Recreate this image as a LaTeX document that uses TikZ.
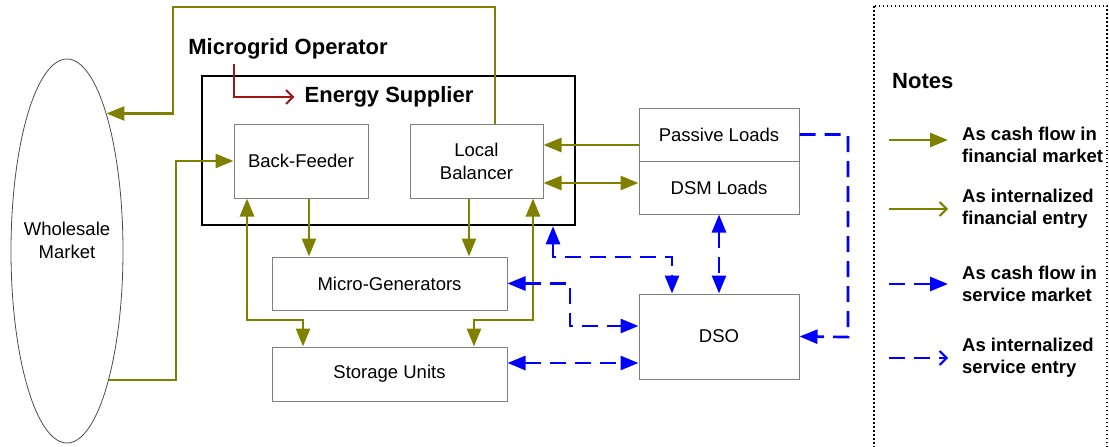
\documentclass[tikz,border=0pt]{standalone}
\usepackage{fontspec}
\setmainfont{Liberation Sans}
\usetikzlibrary{arrows.meta,shapes.geometric}
\definecolor{oliv}{RGB}{128,128,0}
\definecolor{bblue}{RGB}{0,0,255}
\definecolor{dred}{RGB}{160,20,20}
\definecolor{bgray}{RGB}{128,128,128}
\newcommand{\nrmf}{\fontsize{18.5}{23}\selectfont}
\newcommand{\notef}{\bfseries\fontsize{18.5}{22}\selectfont}
\newcommand{\bigf}{\bfseries\fontsize{22}{26}\selectfont}
\begin{document}
\begin{tikzpicture}[x=1pt,y=-1pt,
  tri/.tip={Triangle[length=18pt,width=14pt]},
  barb/.tip={Straight Barb[length=7pt,width=14pt,line width=2pt]},
  box/.style={draw=bgray,line width=1pt,inner sep=0pt,font=\nrmf,align=center},
  lbl/.style={inner sep=0pt,font=\bigf},
  cf/.style={draw=oliv,line width=2.7pt},
  sf/.style={draw=bblue,line width=2.7pt,dash pattern=on 16pt off 9pt},
  nt/.style={inner sep=0pt,font=\notef,align=left,anchor=west}]
\useasboundingbox (0,0) rectangle (1109,447);

% nodes
\node[draw=black!70,line width=0.8pt,ellipse,inner sep=0pt,minimum width=112pt,minimum height=384pt] (wm) at (67,251) {};
\node[font=\nrmf,align=center,inner sep=0pt] (wmt) at (67,240) {Wholesale\\Market};
\node[draw=black,line width=2.5pt,minimum width=373pt,minimum height=149pt,inner sep=0pt] (es) at (388.5,150.5) {};
\node[lbl] (est) at (389,97) {Energy Supplier};
\node[lbl] (mo) at (288,49) {Microgrid Operator};
\node[box,minimum width=134pt,minimum height=74pt] (bf) at (301,161) {Back-Feeder};
\node[box,minimum width=133pt,minimum height=74pt] (lb) at (476.5,161) {Local\\Balancer};
\node[box,minimum width=235pt,minimum height=53pt] (mg) at (389.5,283.5) {Micro-Generators};
\node[box,minimum width=235pt,minimum height=54pt] (su) at (389.5,374) {Storage Units};
\node[box,minimum width=160pt,minimum height=53pt] (pl) at (719,134.5) {Passive Loads};
\node[box,minimum width=160pt,minimum height=53pt] (dsm) at (719,187.5) {DSM Loads};
\node[box,minimum width=160pt,minimum height=85pt] (dso) at (719,336.5) {DSO};

% red internal arrow
\draw[draw=dred,line width=2.2pt,-barb] ([xshift=-54pt,yshift=-4pt]mo.south) |- ([xshift=-10pt]est.west);

% olive connectors
\draw[cf,-tri] ([xshift=18.5pt]lb.north) |- (173,7) |- (wm.74);
\draw[cf,-tri] (wm.-72) -| (176,161) -- (bf.west);
\draw[cf,tri-tri] ([xshift=-54pt]bf.south) |- (303,320) -- ([xshift=-86.5pt]su.north);
\coordinate (p4) at ([xshift=8pt]bf.south);
\draw[cf,-tri] (p4) -- (p4 |- mg.north);
\coordinate (p5) at ([xshift=-7.5pt]lb.south);
\draw[cf,-tri] (p5) -- (p5 |- mg.north);
\draw[cf,tri-tri] ([xshift=56.5pt]lb.south) |- (474,320) -- ([xshift=84.5pt]su.north);
\coordinate (p7) at ([yshift=-10.5pt]pl.west);
\draw[cf,-tri] (p7) -- (p7 -| lb.east);
\coordinate (p8) at ([yshift=4.5pt]dsm.west);
\draw[cf,tri-tri] (p8 -| lb.east) -- (p8);

% blue connectors
\draw[sf,tri-tri] ([xshift=164.5pt]es.south) |- (672,257) -- ([xshift=-47pt]dso.north);
\draw[sf,tri-tri] (dsm.south) -- (dso.north);
\draw[sf,tri-tri] (mg.east) -| (570,326) -- ([yshift=10.5pt]dso.west);
\coordinate (p12) at ([yshift=11pt]su.east);
\draw[sf,tri-tri] (p12) -- (p12 -| dso.west);
\draw[sf,-tri] (pl.east) -| (848,337) -- (dso.east);

% notes
\begin{scope}
\clip (0,0) rectangle (1109,447);
\draw[line width=1.5pt,dash pattern=on 1.5pt off 2.5pt] (874,6) rectangle (1107,480);
\end{scope}
\node[nt,font=\bigf] (nh) at (892,81) {Notes};
\coordinate (a1) at (889,140); \coordinate (b1) at (948,140);
\coordinate (a2) at (889,209); \coordinate (b2) at (948,209);
\coordinate (a3) at (889,284); \coordinate (b3) at (948,284);
\coordinate (a4) at (889,358); \coordinate (b4) at (948,358);
\draw[cf,-tri] (a1) -- (b1);
\draw[cf,-barb] (a2) -- (b2);
\draw[sf,-tri] (a3) -- (b3);
\draw[sf,-barb] (a4) -- (b4);
\node[nt] (n1) at (962,144.5) {As cash flow in\\financial market};
\node[nt] (n2) at (962,209) {As internalized\\financial entry};
\node[nt] (n3) at (962,283.5) {As cash flow in\\service market};
\node[nt] (n4) at (962,357.5) {As internalized\\service entry};
\end{tikzpicture}
\end{document}
